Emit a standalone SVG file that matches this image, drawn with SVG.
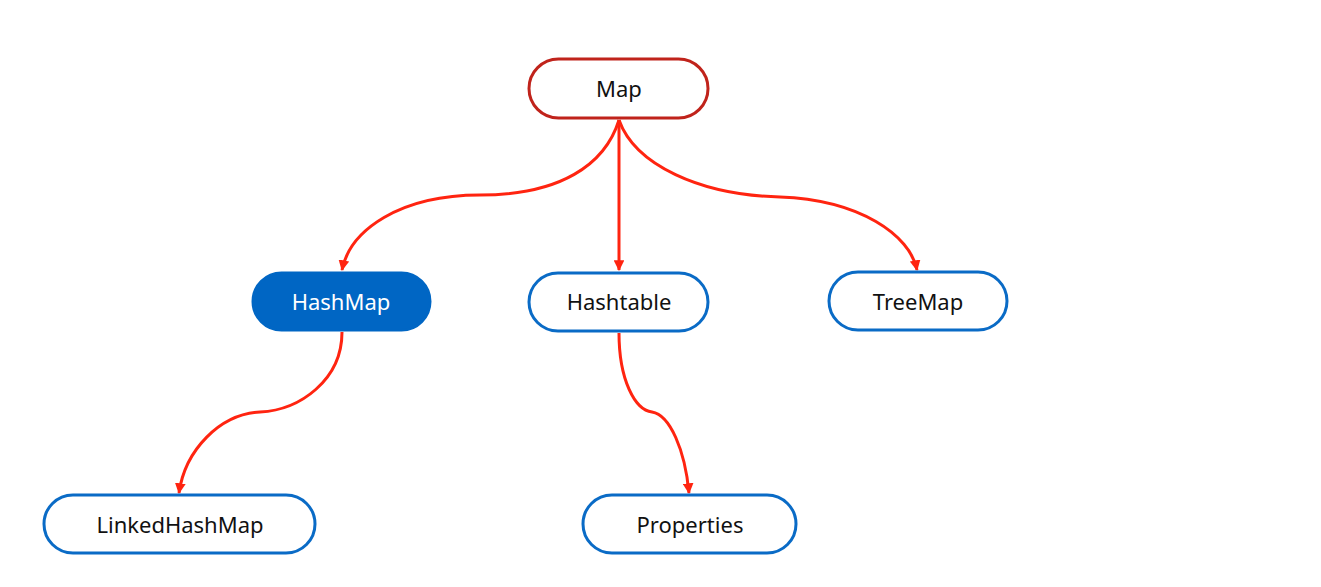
<svg xmlns="http://www.w3.org/2000/svg" width="1321" height="587" viewBox="0 0 1321 587">
<style>
.node{fill:#fff;stroke:#0a6bc6;stroke-width:3}
.root{fill:#fff;stroke:#c0231b;stroke-width:3}
.filled{fill:#0066c4;stroke:#0066c4;stroke-width:3}
.lbl{font-family:"Noto Sans","DejaVu Sans",sans-serif;font-size:22px;fill:#111;text-anchor:middle;dominant-baseline:central}
.wl{fill:#fff}
.edge{fill:none;stroke:#ff2410;stroke-width:3;marker-end:url(#arr)}
</style>
<defs>
<marker id="arr" viewBox="0 0 10 10" refX="9" refY="5" markerWidth="3.6" markerHeight="3.6" orient="auto" markerUnits="strokeWidth">
<path d="M0,0 L10,5 L0,10 z" fill="#ff2410"/>
</marker>
</defs>
<rect width="1321" height="587" fill="#fff"/>
<g id="connectors">
<path class="edge" d="M619,120 C605,165 560,195 480,195 C400,195 350,230 342,270"/>
<path class="edge" d="M619,120 L619,270"/>
<path class="edge" d="M619,120 C635,165 700,195 780,197 C860,200 910,235 917,270"/>
<path class="edge" d="M342,332 C342,380 300,410 260,412 C220,414 185,450 179,493"/>
<path class="edge" d="M619,333 C619,380 635,410 652,412 C670,415 685,450 689,493"/>
</g>
<g id="map"><rect class="root" x="529" y="59" width="179" height="59" rx="29.5"/><text class="lbl" x="619" y="88">Map</text></g>
<g id="hashmap"><rect class="filled" x="253" y="273" width="177" height="57" rx="28.5"/><text class="lbl wl" x="341" y="301">HashMap</text></g>
<g id="hashtable"><rect class="node" x="529" y="273" width="179" height="58" rx="29"/><text class="lbl" x="619" y="301">Hashtable</text></g>
<g id="treemap"><rect class="node" x="829" y="272" width="178" height="58" rx="29"/><text class="lbl" x="918" y="301">TreeMap</text></g>
<g id="linkedhashmap"><rect class="node" x="44" y="495" width="271" height="58" rx="29"/><text class="lbl" x="180" y="524">LinkedHashMap</text></g>
<g id="properties"><rect class="node" x="583" y="495" width="213" height="58" rx="29"/><text class="lbl" x="690" y="524">Properties</text></g>
</svg>
